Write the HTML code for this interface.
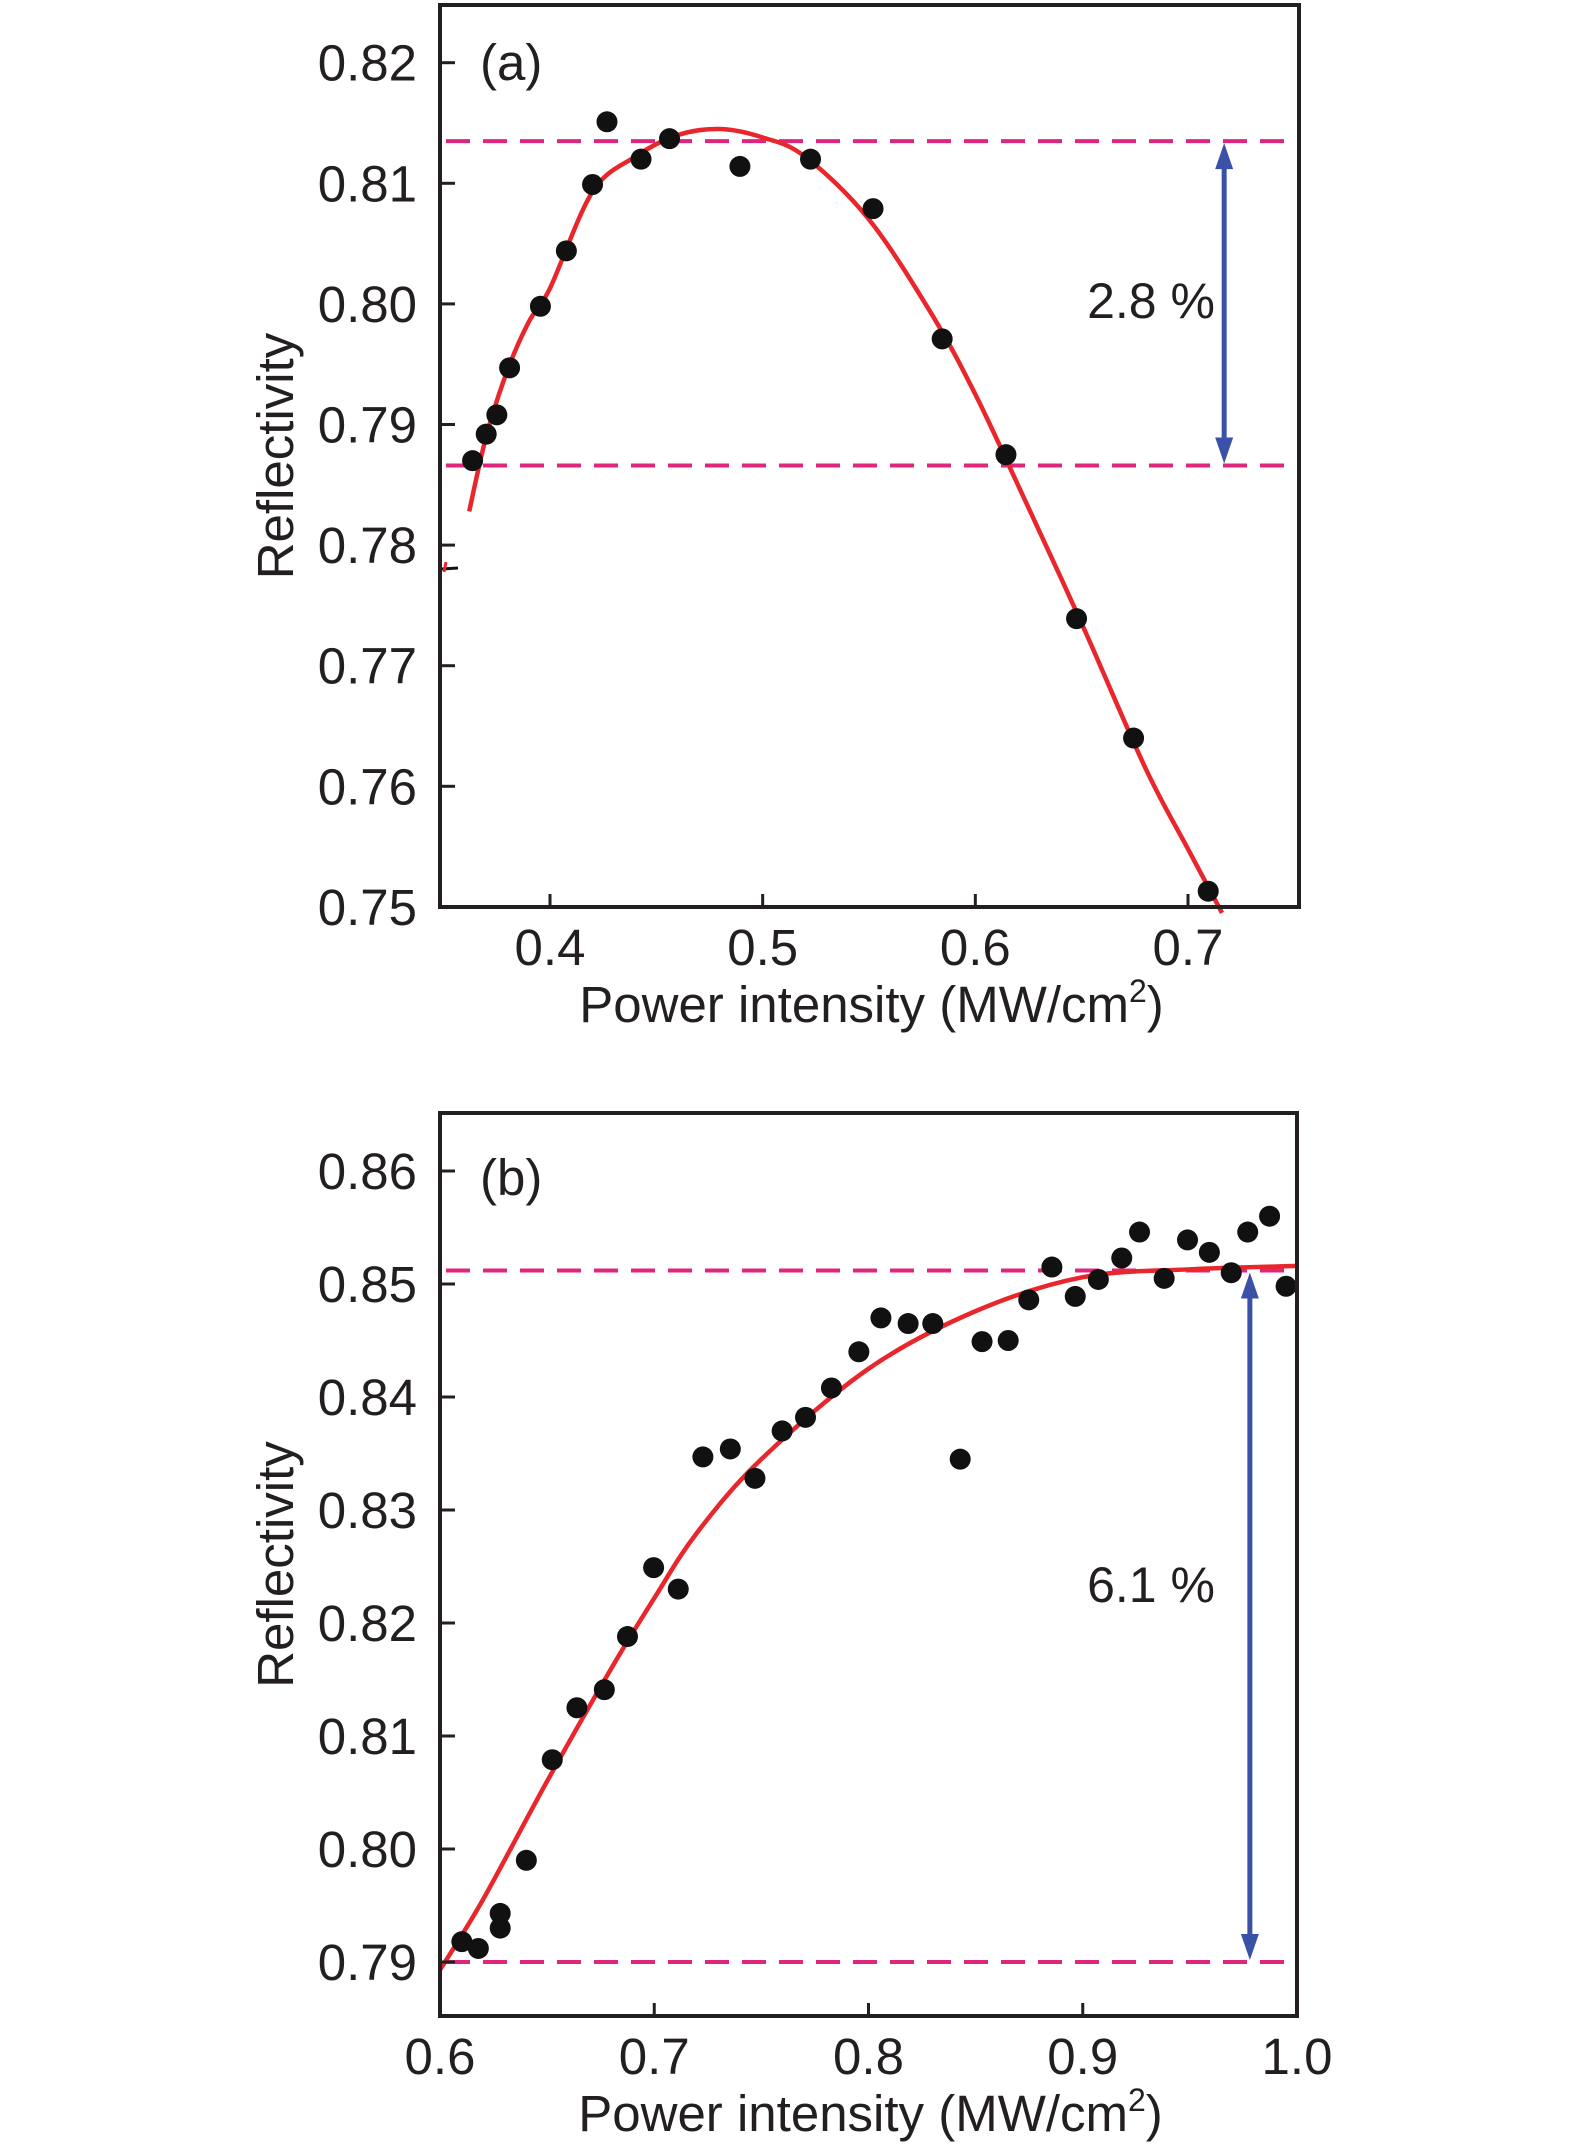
<!DOCTYPE html>
<html><head><meta charset="utf-8">
<style>
html,body{margin:0;padding:0;background:#fff;}
svg{display:block;font-family:"Liberation Sans","DejaVu Sans",sans-serif;}
</style></head>
<body>
<svg id="chart" width="1575" height="2152" viewBox="0 0 1575 2152" xmlns="http://www.w3.org/2000/svg">
<rect width="1575" height="2152" fill="#fff"/>
<line x1="442" y1="569" x2="458" y2="568" stroke="#111" stroke-width="3"/>
<line x1="446" y1="562" x2="444" y2="572" stroke="#e8262c" stroke-width="3"/>
</svg>
<script>
// ---- Panel (a) data ----
const aPointsX = [0.3636,0.370,0.375,0.381,0.3955,0.4077,0.420,0.4268,0.4428,0.4562,0.4893,0.5225,0.5519,0.5844,0.6144,0.6476,0.6744,0.7095];
const aPointsY = [0.7870,0.7892,0.7908,0.7947,0.7998,0.8044,0.8099,0.8151,0.8120,0.8137,0.8114,0.8120,0.8079,0.7971,0.7875,0.7739,0.7640,0.7513];
const aFitX = [0.362,0.37,0.38,0.39,0.40,0.42,0.44,0.46,0.48,0.50,0.52,0.55,0.58,0.60,0.62,0.65,0.68,0.70,0.716];
const aFitY = [0.7828,0.7890,0.7945,0.7985,0.8013,0.8093,0.8122,0.8140,0.8145,0.8138,0.8122,0.8070,0.7990,0.7925,0.7850,0.7735,0.7615,0.7548,0.7495];
const aXTicks = [0.4,0.5,0.6,0.7];
const aXTickLabels = ["0.4","0.5","0.6","0.7"];
const aYTicks = [0.75,0.76,0.77,0.78,0.79,0.80,0.81,0.82];
const aYTickLabels = ["0.75","0.76","0.77","0.78","0.79","0.80","0.81","0.82"];
const aRefLines = [0.8135,0.7866];
const aArrowX = [0.717];
const aAnnotation = ["2.8 %"];

// ---- Panel (b) data ----
const bPointsX = [0.6102,0.6179,0.6281,0.6281,0.6403,0.6524,0.6639,0.6767,0.6875,0.6997,0.7112,0.7227,0.7355,0.7470,0.7597,0.7706,0.7827,0.7955,0.8058,0.8185,0.8300,0.8428,0.8530,0.8652,0.8748,0.8856,0.8965,0.9073,0.9182,0.9265,0.9380,0.9489,0.9591,0.9693,0.9770,0.9872,0.9949];
const bPointsY = [0.7918,0.7912,0.7943,0.7930,0.7990,0.8079,0.8125,0.8141,0.8188,0.8249,0.8230,0.8347,0.8354,0.8328,0.8370,0.8382,0.8408,0.8440,0.8470,0.8465,0.8465,0.8345,0.8449,0.8450,0.8486,0.8515,0.8489,0.8504,0.8523,0.8546,0.8505,0.8539,0.8528,0.8510,0.8546,0.8560,0.8498];
const bFitX = [0.6,0.62,0.65,0.68,0.7,0.72,0.75,0.8,0.85,0.9,0.95,1.0];
const bFitY = [0.7893,0.7955,0.8060,0.8160,0.8222,0.8280,0.8345,0.8425,0.8476,0.8506,0.8513,0.8516];
const bXTicks = [0.6,0.7,0.8,0.9,1.0];
const bXTickLabels = ["0.6","0.7","0.8","0.9","1.0"];
const bYTicks = [0.79,0.80,0.81,0.82,0.83,0.84,0.85,0.86];
const bYTickLabels = ["0.79","0.80","0.81","0.82","0.83","0.84","0.85","0.86"];
const bRefLines = [0.8512,0.7900];
const bArrowX = [0.978];
const bAnnotation = ["6.1 %"];

const NS = "http://www.w3.org/2000/svg";
const svg = document.getElementById('chart');
function mk(tag, attrs, parent){
  const e = document.createElementNS(NS, tag);
  for (const k in attrs) e.setAttribute(k, attrs[k]);
  (parent||svg).appendChild(e);
  return e;
}
function smoothPath(pts){
  let d = `M${pts[0][0]},${pts[0][1]}`;
  for (let i=0;i<pts.length-1;i++){
    const p0=pts[i-1]||pts[i], p1=pts[i], p2=pts[i+1], p3=pts[i+2]||p2;
    const c1x=p1[0]+(p2[0]-p0[0])/6, c1y=p1[1]+(p2[1]-p0[1])/6;
    const c2x=p2[0]-(p3[0]-p1[0])/6, c2y=p2[1]-(p3[1]-p1[1])/6;
    d += ` C${c1x},${c1y} ${c2x},${c2y} ${p2[0]},${p2[1]}`;
  }
  return d;
}

function panel(cfg){
  const g = mk('g', {});
  
  
  const X = v => cfg.L + (v - cfg.x0) / (cfg.x1 - cfg.x0) * (cfg.R - cfg.L);
  const Y = v => cfg.yRef0 + (v - cfg.yv0) / (cfg.yv1 - cfg.yv0) * (cfg.yRef1 - cfg.yRef0);

  cfg.refs.forEach((r,i)=>{
    const l = mk('line',{x1:cfg.L+6,x2:cfg.R-2,y1:Y(r),y2:Y(r),stroke:'#e0267c','stroke-width':4,'stroke-dasharray':'24 13'},g);
    
    
  });

  const fp = cfg.fitX.map((x,i)=>[X(x),Y(cfg.fitY[i])]);
  const curve = mk('path',{d:smoothPath(fp),fill:'none',stroke:'#e8262c','stroke-width':4.5,'stroke-linejoin':'round'},g);
  
  

  cfg.px.forEach((x,i)=>{
    const c = mk('circle',{cx:X(x),cy:Y(cfg.py[i]),r:10.5,fill:'#111'},g);
    
    
  });

  const ax = X(cfg.arrowX[0]);
  const yTop = Y(cfg.refs[0]), yBot = Y(cfg.refs[1]);
  const ar = mk('g',{fill:'#3a51a8',stroke:'#3a51a8'},g);
  
  
  mk('line',{x1:ax,x2:ax,y1:yTop+20,y2:yBot-20,'stroke-width':5},ar);
  mk('path',{d:`M${ax},${yTop+2} L${ax-9},${yTop+28} L${ax+9},${yTop+28} Z`,stroke:'none'},ar);
  mk('path',{d:`M${ax},${yBot-2} L${ax-9},${yBot-28} L${ax+9},${yBot-28} Z`,stroke:'none'},ar);

  const ann = mk('text',{x:cfg.annX,y:cfg.annY,'font-size':50,fill:'#231f20','text-anchor':'middle'},g);
  ann.textContent = cfg.ann[0];
  
  

  const fr = mk('rect',{x:cfg.L,y:cfg.T,width:cfg.R-cfg.L,height:cfg.B-cfg.T,fill:'none',stroke:'#231f20','stroke-width':4},g);
  
  

  cfg.yTicks.forEach((t,i)=>{
    mk('line',{x1:cfg.L,x2:cfg.L+15,y1:Y(t),y2:Y(t),stroke:'#231f20','stroke-width':3},g);
    const tx = mk('text',{x:417,y:Y(t)+18,'font-size':51,fill:'#231f20','text-anchor':'end'},g);
    tx.textContent = cfg.yLabels[i];
    
    
  });
  cfg.xTicks.forEach((t,i)=>{
    if (X(t) > cfg.L+2 && X(t) < cfg.R-2)
      mk('line',{x1:X(t),x2:X(t),y1:cfg.B,y2:cfg.B-13,stroke:'#231f20','stroke-width':3},g);
    const tx = mk('text',{x:X(t),y:cfg.B+58,'font-size':51,fill:'#231f20','text-anchor':'middle'},g);
    tx.textContent = cfg.xLabels[i];
    
    
  });

  const xt = mk('text',{x:(cfg.L+cfg.R)/2+2,y:cfg.B+115,'font-size':51,fill:'#231f20','text-anchor':'middle'},g);
  xt.innerHTML = 'Power intensity (MW/cm<tspan font-size="32" dy="-20">2</tspan><tspan dy="20">)</tspan>';
  
  
  const cy = (cfg.T+cfg.B)/2;
  const yt = mk('text',{x:0,y:0,'font-size':51,fill:'#231f20','text-anchor':'middle',transform:`translate(293,${cy}) rotate(-90)`},g);
  yt.textContent = 'Reflectivity';
  
  

  const pl = mk('text',{x:cfg.L+40,y:cfg.labY,'font-size':51,fill:'#231f20'},g);
  pl.textContent = cfg.label;
  
  
  return {X,Y,g};
}

// panel (a): 0.4 -> 550px, 0.7 -> 1188px
const aX0 = 0.4 - (550-440)/2126.7, aX1 = 0.4 + (1299-550)/2126.7;
panel({name:'panel-a',L:440,R:1299,T:5,B:907,x0:aX0,x1:aX1,
  yv0:0.82,yv1:0.81,yRef0:62.7,yRef1:183.3,
  px:aPointsX,py:aPointsY,fitX:aFitX,fitY:aFitY,refs:aRefLines,arrowX:aArrowX,ann:aAnnotation,
  annX:1151,annY:318,yTicks:aYTicks,yLabels:aYTickLabels,xTicks:aXTicks,xLabels:aXTickLabels,label:'(a)',labY:80});
panel({name:'panel-b',L:440,R:1297,T:1113,B:2016,x0:0.6,x1:1.0,
  yv0:0.86,yv1:0.85,yRef0:1171,yRef1:1284,
  px:bPointsX,py:bPointsY,fitX:bFitX,fitY:bFitY,refs:bRefLines,arrowX:bArrowX,ann:bAnnotation,
  annX:1151,annY:1602,yTicks:bYTicks,yLabels:bYTickLabels,xTicks:bXTicks,xLabels:bXTickLabels,label:'(b)',labY:1195});
</script>
</body></html>
